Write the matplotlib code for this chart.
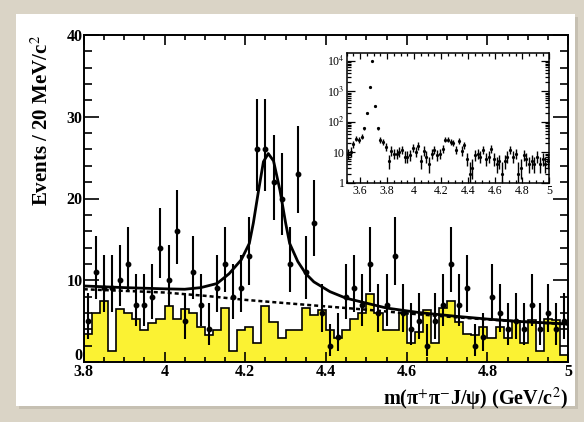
import numpy as np
import matplotlib
matplotlib.use('Agg')
import matplotlib.pyplot as plt
import matplotlib.transforms as mtransforms
from matplotlib.ticker import MultipleLocator, FixedLocator, FixedFormatter, LogLocator, NullFormatter
from matplotlib.patches import Rectangle

plt.rcParams['font.family'] = ['Liberation Serif', 'DejaVu Serif']
plt.rcParams['mathtext.fontset'] = 'stix'

# ---------------- data ----------------
x_lo, x_hi, bin_w = 3.80, 5.00, 0.02

# pi+pi- J/psi candidates per 20 MeV bin, 3.80 - 5.00 GeV
counts = [5, 11, 9, 9, 10, 12, 7, 7, 8, 14,
          10, 16, 5, 11, 7, 4, 9, 12, 8, 9,
          13, 26, 26, 22, 20, 12, 23, 11, 17, 6,
          2, 3, 8, 9, 7, 12, 6, 7, 13, 6,
          4, 5, 2, 5, 7, 12, 7, 9, 2, 3,
          8, 6, 4, 5, 4, 7, 4, 6, 4, 5]

# J/psi sideband background (shaded histogram)
sideband = [3.4, 6.0, 7.5, 1.4, 6.5, 6.0, 5.3, 3.9, 4.8, 5.3,
            6.9, 5.3, 6.5, 6.0, 4.3, 3.3, 3.9, 6.6, 1.4, 3.9,
            4.3, 2.3, 6.9, 4.9, 2.9, 3.9, 3.9, 6.6, 5.8, 6.4,
            3.9, 2.9, 3.9, 5.3, 6.0, 8.3, 6.0, 3.9, 3.9, 6.0,
            2.3, 3.7, 6.4, 2.3, 6.6, 7.5, 4.9, 3.4, 3.3, 4.3,
            2.9, 4.3, 2.9, 5.0, 2.3, 5.1, 1.3, 5.3, 5.1, 0.9]

# fit result (solid)
fit_x = [3.80, 3.90, 4.00, 4.05, 4.09, 4.13, 4.16, 4.19, 4.21, 4.22,
         4.233, 4.245, 4.257, 4.270, 4.286, 4.300, 4.310, 4.330, 4.350, 4.370,
         4.410, 4.450, 4.500, 4.550, 4.630, 4.720, 4.800, 4.880, 5.000]
fit_y = [9.3, 9.1, 8.95, 8.9, 9.1, 9.6, 10.8, 12.5, 14.5, 17.0,
         21.0, 24.5, 25.5, 24.6, 21.0, 17.0, 14.5, 12.3, 10.8, 9.8,
         8.6, 7.8, 7.2, 6.6, 6.05, 5.6, 5.25, 4.95, 4.65]

# background component (dashed)
bg_x = [3.80, 3.90, 4.00, 4.10, 4.20, 4.30, 4.40, 4.50, 4.60, 4.70, 4.80, 4.90, 5.00]
bg_y = [8.9, 8.7, 8.5, 8.1, 7.6, 7.2, 6.8, 6.4, 5.95, 5.55, 5.2, 4.9, 4.6]

# inset: wider range 3.50 - 5.00 GeV, bins below 3.80 GeV (psi(2S) region)
inset_lo = 3.50
inset_low_counts = [9, 10, 18, 28, 25, 32, 60, 196, 1340, 10000, 325, 60, 25, 22, 15]

# axis tick labels
x_major = [3.8, 4.0, 4.2, 4.4, 4.6, 4.8, 5.0]
x_major_labels = ['3.8', '4', '4.2', '4.4', '4.6', '4.8', '5']
y_major = [0, 10, 20, 30, 40]
y_major_labels = ['0', '10', '20', '30', '40']
inset_x_major = [3.6, 3.8, 4.0, 4.2, 4.4, 4.6, 4.8, 5.0]
inset_x_labels = ['3.6', '3.8', '4', '4.2', '4.4', '4.6', '4.8', '5']
inset_y_major = [1, 10, 100, 1000, 10000]
inset_y_labels = ['1', '10', r'10$^{2}$', r'10$^{3}$', r'10$^{4}$']


def poisson_err(n):
    n = np.asarray(n, dtype=float)
    hi = 1.0 + np.sqrt(n + 0.75)
    lo = n - n * (1.0 - 1.0 / (9.0 * n) - 1.0 / (3.0 * np.sqrt(n))) ** 3
    return lo, hi


# ---------------- figure ----------------
W, H = 584, 422
fig = plt.figure(figsize=(W / 100, H / 100), dpi=100)
fig.patch.set_facecolor('#dad4c6')

def fr(x0, y0, x1, y1):
    return (x0 / W, 1 - y1 / H), (x1 - x0) / W, (y1 - y0) / H

xy, w, h = fr(19, 17, 578, 409)
fig.add_artist(Rectangle(xy, w, h, transform=fig.transFigure, facecolor='#b9b3a6',
                         edgecolor='none', zorder=-2, alpha=0.6))
xy, w, h = fr(16, 14, 575, 406)
fig.add_artist(Rectangle(xy, w, h, transform=fig.transFigure, facecolor='white',
                         edgecolor='none', zorder=-1))

ax = fig.add_axes([83.8 / W, 1 - 362 / H, (568.2 - 83.8) / W, (362 - 35) / H])
ax.set_facecolor('none')

edges = np.arange(len(counts) + 1) * bin_w + x_lo
centers = 0.5 * (edges[:-1] + edges[1:])

ax.stairs(sideband, edges, fill=True, color='#fbf233', zorder=1)
ax.stairs(sideband, edges, color='black', lw=1.2, zorder=2)

ax.plot(bg_x, bg_y, color='black', lw=1.8, ls=(0, (1.6, 1.2)), zorder=3)
ax.plot(fit_x, fit_y, color='black', lw=2.0, zorder=4)

lo, hi = poisson_err(counts)
ax.errorbar(centers, counts, yerr=[lo, hi], fmt='o', ms=3.2, color='black',
            elinewidth=1.5, capsize=0, zorder=5)

ax.set_xlim(x_lo, x_hi)
ax.set_ylim(0, 40)
ax.xaxis.set_major_locator(FixedLocator(x_major))
ax.xaxis.set_major_formatter(FixedFormatter(x_major_labels))
ax.xaxis.set_minor_locator(MultipleLocator(0.05))
ax.yaxis.set_major_locator(FixedLocator(y_major))
ax.yaxis.set_major_formatter(FixedFormatter(y_major_labels))
ax.yaxis.set_minor_locator(MultipleLocator(2))
ax.tick_params(which='both', direction='in', top=True, right=True, width=1.2)
ax.tick_params(axis='x', which='major', length=7.5, pad=1.5)
ax.tick_params(axis='x', which='minor', length=3.8)
ax.tick_params(axis='y', which='major', length=11, pad=1)
ax.tick_params(axis='y', which='minor', length=5.5)
for lab in ax.get_xticklabels() + ax.get_yticklabels():
    lab.set_fontsize(11.5)
    lab.set_fontweight('bold')
for s in ax.spines.values():
    s.set_linewidth(1.4)

# lift the "0" label so it sits just above "3.8"
zero_lab = ax.yaxis.get_major_ticks()[0].label1
zero_lab.set_transform(zero_lab.get_transform() +
                       mtransforms.ScaledTranslation(0, 8 / 100, fig.dpi_scale_trans))

ax.set_ylabel(r'Events / 20 MeV/c$^{2}$', fontsize=15, fontweight='bold', loc='top')
ax.yaxis.set_label_coords(-0.064, 1.0)
ax.set_xlabel(r'm(π$^{+}$π$^{-}$J/ψ) (GeV/c$^{2}$)', fontsize=14.5, fontweight='bold', loc='right')
ax.xaxis.set_label_coords(1.0, -0.072)

# ---------------- inset ----------------
axin = fig.add_axes([346.7 / W, 1 - 182.7 / H, (549.3 - 346.7) / W, (182.7 - 52.7) / H])
all_counts = list(inset_low_counts) + list(counts)
iedges = np.arange(len(all_counts) + 1) * bin_w + inset_lo
icenters = 0.5 * (iedges[:-1] + iedges[1:])
ilo, ihi = poisson_err(all_counts)
axin.errorbar(icenters, all_counts, yerr=[ilo, ihi], fmt='o', ms=1.3, color='black',
              elinewidth=1.0, capsize=0)
axin.set_yscale('log')
axin.set_xlim(inset_lo, x_hi)
axin.set_ylim(1, 18300)
axin.xaxis.set_major_locator(FixedLocator(inset_x_major))
axin.xaxis.set_major_formatter(FixedFormatter(inset_x_labels))
axin.xaxis.set_minor_locator(MultipleLocator(0.05))
axin.yaxis.set_major_locator(FixedLocator(inset_y_major))
axin.yaxis.set_major_formatter(FixedFormatter(inset_y_labels))
axin.yaxis.set_minor_locator(LogLocator(base=10, subs=np.arange(2, 10)))
axin.yaxis.set_minor_formatter(NullFormatter())
axin.tick_params(which='both', direction='in', top=True, right=True, width=0.9,
                 labelsize=8.5)
axin.tick_params(axis='x', which='major', length=4, pad=1.5)
axin.tick_params(axis='x', which='minor', length=2)
axin.tick_params(axis='y', which='major', length=6, pad=1.5)
axin.tick_params(axis='y', which='minor', length=3)
for s in axin.spines.values():
    s.set_linewidth(1.1)

fig.savefig('out.png', dpi=100, facecolor=fig.get_facecolor())
